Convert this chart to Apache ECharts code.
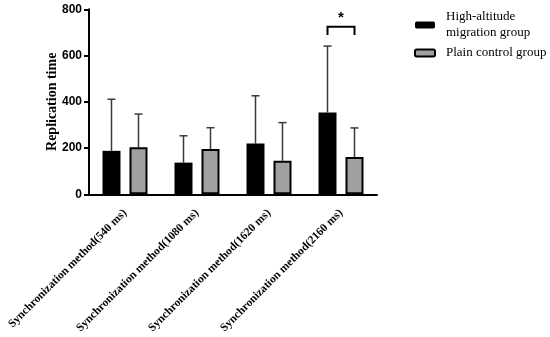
<!DOCTYPE html>
<html>
<head>
<meta charset="utf-8">
<script src="https://cdn.jsdelivr.net/npm/echarts@6/dist/echarts.min.js"></script>
<style>
html,body{margin:0;padding:0;background:#fff;}
#chart{width:550px;height:337px;}
</style>
</head>
<body>
<div id="chart"></div>
<script>
// ---- data ----
var categories = [
  'Synchronization method(540 ms)',
  'Synchronization method(1080 ms)',
  'Synchronization method(1620 ms)',
  'Synchronization method(2160 ms)'
];
var seriesNames = ['High-altitude\nmigration group', 'Plain control group'];
var highMean = [188, 137, 220, 354];
var highSD = [223, 116, 206, 287];
var plainMean = [203, 196, 145, 161];
var plainSD = [144, 92, 165, 126];
var yTicks = [0, 200, 400, 600, 800];
// significance marks: category index, bracket top value, bracket leg bottom value, star value, label
var sigCats = [3];
var sigTop = [725];
var sigBottom = [689];
var sigStar = [765];
var sigLabels = ['*'];

// ---- styles ----
var BAR_W = 0.25, BAR_GAP = 0.5;
var OFF = BAR_W * (1 + BAR_GAP) / 2; // center offset as fraction of band
var serif = 'Liberation Serif';

function errData(means, sds) {
  return means.map(function (m, i) { return [i, m, m + sds[i]]; });
}
function errRender(sign) {
  return function (params, api) {
    var band = api.size([1, 0])[0];
    var base = api.coord([api.value(0), api.value(1)]);
    var top = api.coord([api.value(0), api.value(2)]);
    var x = base[0] + sign * band * OFF;
    var cap = 4;
    return {
      type: 'group',
      children: [
        {type: 'line', shape: {x1: x, y1: base[1], x2: x, y2: top[1]}, style: {stroke: '#3a3a3a', lineWidth: 1.5}},
        {type: 'line', shape: {x1: x - cap, y1: top[1], x2: x + cap, y2: top[1]}, style: {stroke: '#3a3a3a', lineWidth: 1.5}}
      ]
    };
  };
}

var sigData = sigCats.map(function (c, i) { return [c, sigTop[i], sigBottom[i], sigStar[i]]; });

var chart = echarts.init(document.getElementById('chart'));
chart.setOption({
  animation: false,
  backgroundColor: '#fff',
  grid: {left: 89, right: 173, top: 9.3, bottom: 142.7, containLabel: false},
  legend: {
    orient: 'vertical',
    left: 414,
    top: 9,
    padding: 0,
    itemWidth: 20,
    itemHeight: 7,
    itemGap: 4,
    textStyle: {fontFamily: serif, fontSize: 13, color: '#000', lineHeight: 16, padding: [0, 0, 0, 6]},
    data: seriesNames
  },
  xAxis: {
    type: 'category',
    data: categories,
    axisLine: {lineStyle: {color: '#000', width: 2}},
    axisTick: {alignWithLabel: true, length: 6, lineStyle: {color: '#000', width: 2}},
    axisLabel: {rotate: 45, interval: 0, margin: 17, color: '#000', fontFamily: serif, fontWeight: 'bold', fontSize: 11.5}
  },
  yAxis: {
    type: 'value',
    min: yTicks[0],
    max: yTicks[yTicks.length - 1],
    interval: yTicks[1] - yTicks[0],
    name: 'Replication time',
    nameLocation: 'middle',
    nameGap: 30,
    nameMoveOverlap: false,
    nameTextStyle: {fontFamily: serif, fontWeight: 'bold', fontSize: 14, color: '#000'},
    splitLine: {show: false},
    axisLine: {show: true, lineStyle: {color: '#000', width: 2}},
    axisTick: {show: true, length: 5, lineStyle: {color: '#000', width: 2}},
    axisLabel: {margin: 7, color: '#000', fontFamily: 'Liberation Sans', fontWeight: 'bold', fontSize: 12}
  },
  series: [
    {
      name: seriesNames[0], type: 'bar', data: highMean,
      barWidth: (BAR_W * 100) + '%', barGap: (BAR_GAP * 100) + '%',
      itemStyle: {color: '#000', borderColor: '#000', borderWidth: 0}, z: 3
    },
    {
      name: seriesNames[1], type: 'bar', data: plainMean,
      barWidth: (BAR_W * 100) + '%', barGap: (BAR_GAP * 100) + '%',
      itemStyle: {color: '#a0a0a0', borderColor: '#000', borderWidth: 2}, z: 3
    },
    {type: 'custom', renderItem: errRender(-1), data: errData(highMean, highSD), z: 2, silent: true},
    {type: 'custom', renderItem: errRender(1), data: errData(plainMean, plainSD), z: 2, silent: true},
    {
      type: 'custom', z: 4, silent: true, data: sigData,
      renderItem: function (params, api) {
        var band = api.size([1, 0])[0];
        var t = api.coord([api.value(0), api.value(1)]);
        var b = api.coord([api.value(0), api.value(2)]);
        var s = api.coord([api.value(0), api.value(3)]);
        var x1 = t[0] - band * OFF, x2 = t[0] + band * OFF;
        return {
          type: 'group',
          children: [
            {type: 'polyline', shape: {points: [[x1, b[1]], [x1, t[1]], [x2, t[1]], [x2, b[1]]]}, style: {stroke: '#000', lineWidth: 2, fill: null}},
            {type: 'text', style: {text: sigLabels[params.dataIndex], x: t[0], y: s[1], align: 'center', verticalAlign: 'middle', fontFamily: 'Liberation Sans', fontWeight: 'bold', fontSize: 15, fill: '#000'}}
          ]
        };
      }
    }
  ]
});
</script>
</body>
</html>
